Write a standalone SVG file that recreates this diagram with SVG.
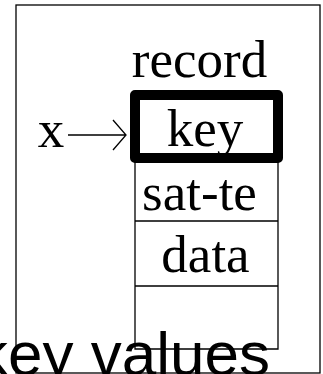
<svg xmlns="http://www.w3.org/2000/svg" width="323" height="374" viewBox="0 0 323 374">
<style>
.ln{fill:none;stroke:#000;stroke-width:1.3}
.t{font-family:"Liberation Serif","Times New Roman",serif;font-size:53px;fill:#000;text-anchor:middle}
.s{font-family:"Liberation Sans",Arial,sans-serif;font-size:62px;fill:#000}
</style>
<rect width="323" height="374" fill="#fff"/>
<g id="frame"><rect class="ln" x="16" y="5" width="304" height="368"/></g>
<g id="record">
<text class="t" x="199.5" y="77">record</text>
<path class="ln" d="M135 158V349H278V158M135 221H278M135 286H278"/>
</g>
<g id="key">
<rect x="135" y="95" width="143" height="63" fill="none" stroke="#000" stroke-width="10" stroke-linejoin="round"/>
<text class="t" x="205" y="146">key</text>
</g>
<g id="satte"><text class="t" x="199.5" y="210">sat-te</text></g>
<g id="data"><text class="t" x="205.5" y="272">data</text></g>
<g id="x"><text class="t" x="51" y="147">x</text></g>
<g id="connectors">
<path class="ln" d="M68 135H125M113 120L126 135L113 150" stroke-width="2"/>
</g>
<g id="caption"><text class="s" x="-23" y="375">key values</text></g>
</svg>
